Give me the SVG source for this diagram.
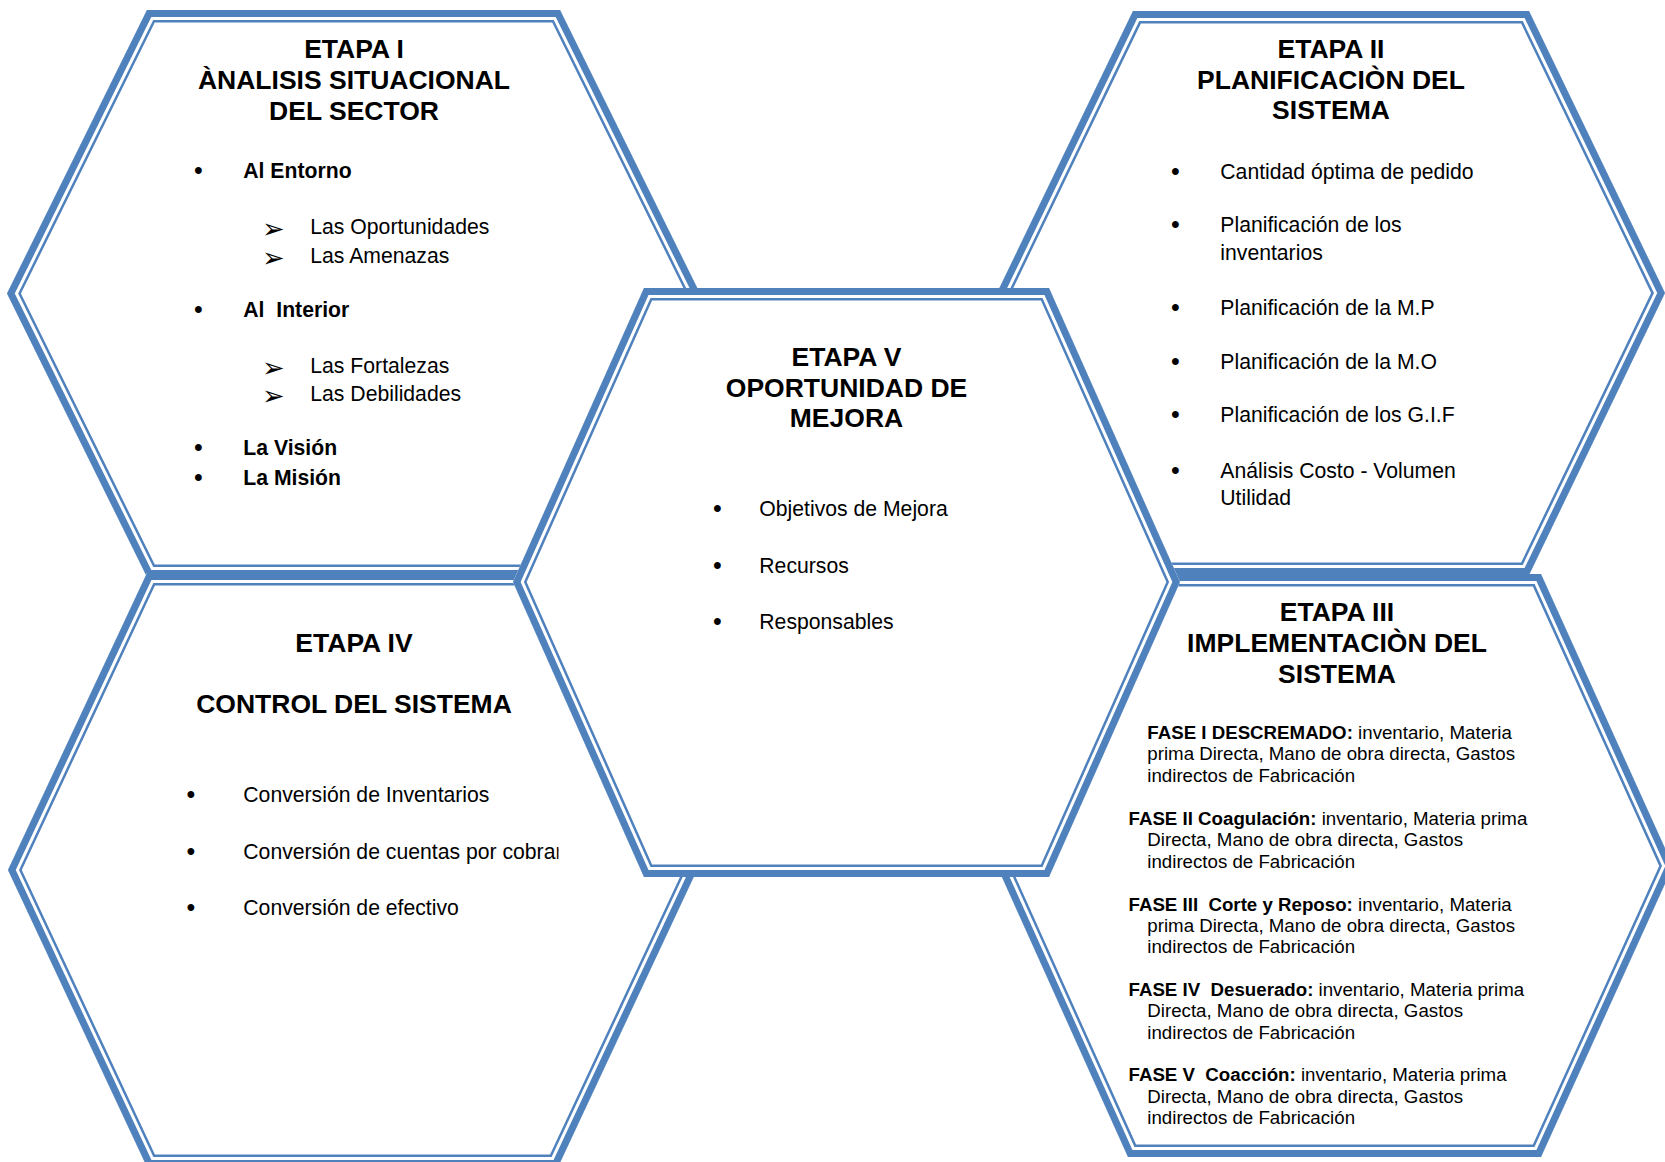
<svg xmlns="http://www.w3.org/2000/svg" xmlns:xlink="http://www.w3.org/1999/xlink" width="1665" height="1162" viewBox="0 0 1665 1162">
<style>
.hx{fill:#fff;stroke:none}
.k1{fill:none;stroke:#4F81BD;stroke-width:25}
.k2{fill:none;stroke:#fff;stroke-width:20}
.k3{fill:none;stroke:#4F81BD;stroke-width:14}
text{font-family:"Liberation Sans",Arial,sans-serif;fill:#000;white-space:pre}
.t{font-size:26.5px;font-weight:bold;text-anchor:middle}
.b{font-size:21.2px}
.bb{font-size:21.2px;font-weight:bold}
.bu{font-size:25px}
.ar{font-family:"DejaVu Sans",sans-serif;font-size:27px}
.f{font-size:18.7px}
.fb{font-weight:bold}
</style>
<defs>
<polygon id="p1" points="7,293.5 147,10 560,10 700,293.5 560,577 147,577"/>
<polygon id="p2" points="997,293 1133,11 1529,11 1665,293 1529,575 1133,575"/>
<polygon id="p4" points="8,870 147,573 558,573 697,870 558,1167 147,1167"/>
<polygon id="p3" points="997,866 1128,574 1541,574 1673,866 1541,1157 1128,1157"/>
<polygon id="p5" points="513,582 644,288 1049,288 1180,582 1049,877 644,877"/>
<clipPath id="c1"><use xlink:href="#p1"/></clipPath>
<clipPath id="c2"><use xlink:href="#p2"/></clipPath>
<clipPath id="c3"><use xlink:href="#p3"/></clipPath>
<clipPath id="c4"><use xlink:href="#p4"/></clipPath>
<clipPath id="c5"><use xlink:href="#p5"/></clipPath>
<clipPath id="cut4"><rect x="0" y="820" width="558.5" height="60"/></clipPath>
</defs>

<g id="etapa-1">
<use xlink:href="#p1" class="hx"/>
<g clip-path="url(#c1)"><use xlink:href="#p1" class="k1"/><use xlink:href="#p1" class="k2"/><use xlink:href="#p1" class="k3"/></g>
<text class="t" x="354" y="58">ETAPA I</text>
<text class="t" x="354" y="89">ÀNALISIS SITUACIONAL</text>
<text class="t" x="354" y="119.5">DEL SECTOR</text>
<text class="bu" x="194" y="179">•</text>
<text class="bb" x="243.3" y="178">Al Entorno</text>
<text class="ar" x="262" y="238">➢</text>
<text class="b" x="310.3" y="234">Las Oportunidades</text>
<text class="ar" x="262" y="266.5">➢</text>
<text class="b" x="310.3" y="262.5">Las Amenazas</text>
<text class="bu" x="194" y="317.5">•</text>
<text class="bb" x="243.3" y="316.5">Al  Interior</text>
<text class="ar" x="262" y="377">➢</text>
<text class="b" x="310.3" y="373">Las Fortalezas</text>
<text class="ar" x="262" y="405">➢</text>
<text class="b" x="310.3" y="401">Las Debilidades</text>
<text class="bu" x="194" y="456.4">•</text>
<text class="bb" x="243.3" y="455.4">La Visión</text>
<text class="bu" x="194" y="486.3">•</text>
<text class="bb" x="243.3" y="485.3">La Misión</text>
</g>

<g id="etapa-2">
<use xlink:href="#p2" class="hx"/>
<g clip-path="url(#c2)"><use xlink:href="#p2" class="k1"/><use xlink:href="#p2" class="k2"/><use xlink:href="#p2" class="k3"/></g>
<text class="t" x="1331" y="58.2">ETAPA II</text>
<text class="t" x="1331" y="88.8">PLANIFICACIÒN DEL</text>
<text class="t" x="1331" y="119.4">SISTEMA</text>
<text class="bu" x="1171" y="179.7">•</text>
<text class="b" x="1220.3" y="178.7">Cantidad óptima de pedido</text>
<text class="bu" x="1171" y="233.3">•</text>
<text class="b" x="1220.3" y="232.3">Planificación de los</text>
<text class="b" x="1220.3" y="260.2">inventarios</text>
<text class="bu" x="1171" y="315.6">•</text>
<text class="b" x="1220.3" y="314.6">Planificación de la M.P</text>
<text class="bu" x="1171" y="369.5">•</text>
<text class="b" x="1220.3" y="368.5">Planificación de la M.O</text>
<text class="bu" x="1171" y="423.1">•</text>
<text class="b" x="1220.3" y="422.1">Planificación de los G.I.F</text>
<text class="bu" x="1171" y="479.4">•</text>
<text class="b" x="1220.3" y="478.4">Análisis Costo - Volumen</text>
<text class="b" x="1220.3" y="505.2">Utilidad</text>
</g>

<g id="etapa-4">
<use xlink:href="#p4" class="hx"/>
<g clip-path="url(#c4)"><use xlink:href="#p4" class="k1"/><use xlink:href="#p4" class="k2"/><use xlink:href="#p4" class="k3"/></g>
<text class="t" x="354" y="652">ETAPA IV</text>
<text class="t" x="354" y="712.8">CONTROL DEL SISTEMA</text>
<text class="bu" x="186.5" y="802.8">•</text>
<text class="b" x="243.3" y="801.8">Conversión de Inventarios</text>
<text class="bu" x="186.5" y="859.7">•</text>
<text class="b" x="243.3" y="858.7" clip-path="url(#cut4)">Conversión de cuentas por cobrar</text>
<text class="bu" x="186.5" y="916">•</text>
<text class="b" x="243.3" y="915">Conversión de efectivo</text>
</g>

<g id="etapa-3">
<use xlink:href="#p3" class="hx"/>
<g clip-path="url(#c3)"><use xlink:href="#p3" class="k1"/><use xlink:href="#p3" class="k2"/><use xlink:href="#p3" class="k3"/></g>
<text class="t" x="1337" y="621.4">ETAPA III</text>
<text class="t" x="1337" y="652.1">IMPLEMENTACIÒN DEL</text>
<text class="t" x="1337" y="682.8">SISTEMA</text>
<text class="f" x="1147.3" y="738.5"><tspan class="fb">FASE I DESCREMADO:</tspan> inventario, Materia</text>
<text class="f" x="1147.3" y="760.4">prima Directa, Mano de obra directa, Gastos</text>
<text class="f" x="1147.3" y="781.5">indirectos de Fabricación</text>
<text class="f" x="1128.5" y="824.9"><tspan class="fb">FASE II Coagulación:</tspan> inventario, Materia prima</text>
<text class="f" x="1147.3" y="846.4">Directa, Mano de obra directa, Gastos</text>
<text class="f" x="1147.3" y="867.5">indirectos de Fabricación</text>
<text class="f" x="1128.5" y="910.5"><tspan class="fb">FASE III  Corte y Reposo:</tspan> inventario, Materia</text>
<text class="f" x="1147.3" y="931.6">prima Directa, Mano de obra directa, Gastos</text>
<text class="f" x="1147.3" y="953.1">indirectos de Fabricación</text>
<text class="f" x="1128.5" y="995.7"><tspan class="fb">FASE IV  Desuerado:</tspan> inventario, Materia prima</text>
<text class="f" x="1147.3" y="1017.2">Directa, Mano de obra directa, Gastos</text>
<text class="f" x="1147.3" y="1038.7">indirectos de Fabricación</text>
<text class="f" x="1128.5" y="1081.3"><tspan class="fb">FASE V  Coacción:</tspan> inventario, Materia prima</text>
<text class="f" x="1147.3" y="1102.8">Directa, Mano de obra directa, Gastos</text>
<text class="f" x="1147.3" y="1124.3">indirectos de Fabricación</text>
</g>

<g id="etapa-5">
<use xlink:href="#p5" class="hx"/>
<g clip-path="url(#c5)"><use xlink:href="#p5" class="k1"/><use xlink:href="#p5" class="k2"/><use xlink:href="#p5" class="k3"/></g>
<text class="t" x="846.5" y="366">ETAPA V</text>
<text class="t" x="846.5" y="397.3">OPORTUNIDAD DE</text>
<text class="t" x="846.5" y="427.4">MEJORA</text>
<text class="bu" x="713" y="517">•</text>
<text class="b" x="759.3" y="516">Objetivos de Mejora</text>
<text class="bu" x="713" y="573.5">•</text>
<text class="b" x="759.3" y="572.5">Recursos</text>
<text class="bu" x="713" y="630">•</text>
<text class="b" x="759.3" y="629">Responsables</text>
</g>

<g id="connectors"/>
</svg>
